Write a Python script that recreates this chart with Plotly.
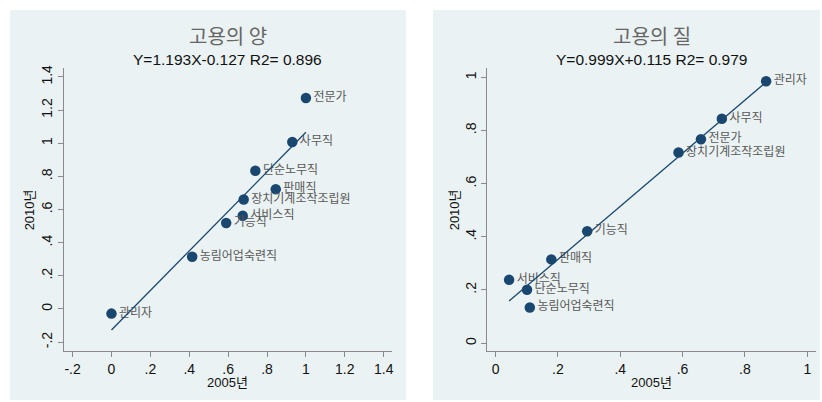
import plotly.graph_objects as go

# 고용의 양 (quantity of employment), 2005 vs 2010 by occupation
qty_jobs = ["전문가", "사무직", "단순노무직", "판매직", "장치기계조작조립원",
            "서비스직", "기능직", "농림어업숙련직", "관리자"]
qty_2005 = [1.00, 0.93, 0.74, 0.845, 0.68, 0.675, 0.59, 0.415, 0.0]
qty_2010 = [1.273, 1.008, 0.834, 0.722, 0.66, 0.563, 0.519, 0.315, -0.028]
qty_slope, qty_icpt, qty_r2 = 1.193, -0.127, 0.896

# 고용의 질 (quality of employment)
qual_jobs = ["관리자", "사무직", "전문가", "장치기계조작조립원", "기능직",
             "판매직", "서비스직", "단순노무직", "농림어업숙련직"]
qual_2005 = [0.868, 0.726, 0.659, 0.587, 0.294, 0.179, 0.0435, 0.101, 0.110]
qual_2010 = [0.985, 0.844, 0.767, 0.717, 0.421, 0.315, 0.238, 0.2005, 0.134]
qual_slope, qual_icpt, qual_r2 = 0.999, 0.115, 0.979

qty_ticks = [-0.2, 0, 0.2, 0.4, 0.6, 0.8, 1, 1.2, 1.4]
qty_ticktext = ["-.2", "0", ".2", ".4", ".6", ".8", "1", "1.2", "1.4"]
qual_ticks = [0, 0.2, 0.4, 0.6, 0.8, 1]
qual_ticktext = ["0", ".2", ".4", ".6", ".8", "1"]

NAVY = "#1a476f"
BG = "#eaf2f3"
W, H = 822, 402
KFONT = "Noto Sans CJK KR, Liberation Sans, sans-serif"
NFONT = "Liberation Sans, Arial, Noto Sans CJK KR, sans-serif"


def px(x):
    return x / W


def py(y):
    return 1 - y / H


fig = go.Figure()


def add_panel(names, xs, ys, slope, icpt, xa, ya):
    fig.add_trace(go.Scatter(
        x=xs, y=ys, mode="markers+text", text=names,
        textposition="middle right",
        textfont=dict(family=KFONT, size=12, color="#595959"),
        marker=dict(size=10.5, color=NAVY),
        xaxis=xa, yaxis=ya, showlegend=False, cliponaxis=False))
    x0, x1 = min(xs), max(xs)
    fig.add_trace(go.Scatter(
        x=[x0, x1], y=[slope * x0 + icpt, slope * x1 + icpt],
        mode="lines", line=dict(color=NAVY, width=1.3),
        xaxis=xa, yaxis=ya, showlegend=False))


add_panel(qty_jobs, qty_2005, qty_2010, qty_slope, qty_icpt, "x", "y")
add_panel(qual_jobs, qual_2005, qual_2010, qual_slope, qual_icpt, "x2", "y2")

axis_common = dict(
    showline=True, linecolor="#8a8a8a", linewidth=1,
    ticks="outside", ticklen=5, tickcolor="#8a8a8a",
    tickfont=dict(family=NFONT, size=14, color="#111111"),
    zeroline=False, tickmode="array",
)

fig.update_layout(
    width=W, height=H,
    margin=dict(l=0, r=0, t=0, b=0),
    paper_bgcolor="white", plot_bgcolor="white",
    xaxis=dict(domain=[px(64), px(393)], range=[-0.245, 1.443],
               tickvals=qty_ticks, ticktext=qty_ticktext,
               showgrid=False, anchor="y", **axis_common),
    yaxis=dict(domain=[py(351), py(65)], range=[-0.256, 1.457],
               tickvals=qty_ticks, ticktext=qty_ticktext, tickangle=-90,
               showgrid=True, gridcolor=BG, gridwidth=1,
               anchor="x", **axis_common),
    xaxis2=dict(domain=[px(488.3), px(818.3)], range=[-0.027, 1.029],
                tickvals=qual_ticks, ticktext=qual_ticktext,
                showgrid=False, anchor="y2", **axis_common),
    yaxis2=dict(domain=[py(350.7), py(65)], range=[-0.030, 1.037],
                tickvals=qual_ticks, ticktext=qual_ticktext, tickangle=-90,
                showgrid=True, gridcolor=BG, gridwidth=1,
                anchor="x2", **axis_common),
)

# panel backgrounds
for x0, x1 in [(10, 407), (434, 822)]:
    fig.add_shape(type="rect", xref="paper", yref="paper",
                  x0=px(x0), x1=px(x1), y0=py(400), y1=py(7),
                  fillcolor=BG, line_width=0, layer="below")

annotations = []
for cx, title, slope, icpt, r2, ylab_x in [
    (228.5, "고용의 양", qty_slope, qty_icpt, qty_r2, 30),
    (653.3, "고용의 질", qual_slope, qual_icpt, qual_r2, 456),
]:
    sub = f"Y={slope:.3f}X{icpt:+.3f} R2= {r2:.3f}"
    common = dict(xref="paper", yref="paper", showarrow=False,
                  xanchor="center", yanchor="middle")
    annotations += [
        dict(x=px(cx), y=py(33), text=title,
             font=dict(family=KFONT, size=20, color="#666666"), **common),
        dict(x=px(cx), y=py(57), text=sub,
             font=dict(family=NFONT, size=15.5, color="#111111"), **common),
        dict(x=px(cx), y=py(382), text="2005년",
             font=dict(family=NFONT, size=13, color="#111111"), **common),
        dict(x=px(ylab_x), y=py(208), text="2010년", textangle=-90,
             font=dict(family=NFONT, size=13, color="#111111"), **common),
    ]
fig.update_layout(annotations=annotations)

fig.write_html("out.html")
